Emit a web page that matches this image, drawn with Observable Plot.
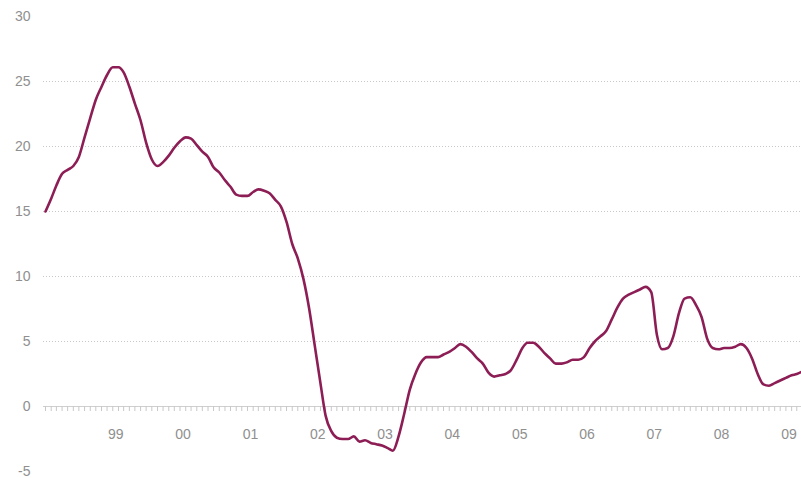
<!DOCTYPE html>
<html>
<head>
<meta charset="utf-8">
<script src="https://cdn.jsdelivr.net/npm/d3@7"></script>
<script src="https://cdn.jsdelivr.net/npm/@observablehq/plot@0.6"></script>
<style>
  html, body { margin: 0; padding: 0; background: #fff; }
  #chart svg { display: block; }
</style>
</head>
<body>
<div id="chart"></div>
<script>
// Monthly values starting January 1998
const startMonth = "1998-01-01";
const endMonth = "2009-04-01";
const values = [
  15.0, 16.0, 17.0, 17.9, 18.2, 18.5, 19.2, 20.7, 22.2, 23.6, 24.6, 25.5,
  26.1, 26.1, 25.7, 24.6, 23.3, 22.0, 20.3, 19.0, 18.5, 18.8, 19.3, 19.9,
  20.4, 20.7, 20.6, 20.1, 19.6, 19.2, 18.4, 18.0, 17.4, 16.9, 16.3, 16.2,
  16.2, 16.5, 16.7, 16.6, 16.4, 15.9, 15.4, 14.2, 12.5, 11.4, 9.8, 7.6,
  4.7, 1.8, -0.7, -1.9, -2.4, -2.5, -2.5, -2.3, -2.7, -2.6, -2.8, -2.9,
  -3.0, -3.2, -3.4, -2.3, -0.6, 1.3, 2.5, 3.4, 3.8, 3.8, 3.8, 4.0,
  4.2, 4.5, 4.8, 4.6, 4.2, 3.7, 3.3, 2.6, 2.3, 2.4, 2.5, 2.8,
  3.6, 4.5, 4.9, 4.9, 4.6, 4.1, 3.7, 3.3, 3.3, 3.4, 3.6, 3.6,
  3.8, 4.5, 5.0, 5.4, 5.8, 6.7, 7.6, 8.3, 8.6, 8.8, 9.0, 9.2,
  8.8, 5.5, 4.4, 4.5, 5.4, 7.2, 8.3, 8.4, 7.8, 6.9, 5.2, 4.5,
  4.4, 4.5, 4.5, 4.6, 4.8, 4.5, 3.7, 2.5, 1.7, 1.6, 1.8, 2.0,
  2.2, 2.4, 2.5, 2.7
];
const yTicks = [-5, 0, 5, 10, 15, 20, 25, 30];
const gridValues = [5, 10, 15, 20, 25];
const yearLabels = ["99", "00", "01", "02", "03", "04", "05", "06", "07", "08", "09"];
const yearStarts = [1999, 2000, 2001, 2002, 2003, 2004, 2005, 2006, 2007, 2008, 2009];

const t0 = new Date(startMonth);
const t1 = new Date(endMonth);
const data = values.map((v, i) => ({date: d3.utcMonth.offset(t0, i), value: v}));
const months = d3.utcMonths(t0, t1);
const years = yearStarts.map((y, i) => ({date: new Date(Date.UTC(y, 0, 1)), label: yearLabels[i]}));

const grey = "#8f8f8f";
const chart = Plot.plot({
  width: 801,
  height: 478,
  marginLeft: 43,
  marginRight: 0,
  marginTop: 16,
  marginBottom: 7,
  style: {fontFamily: "'Liberation Sans', Arial, sans-serif", fontSize: "14px", background: "#fff"},
  x: {type: "utc", domain: [t0, t1], range: [45, 802], axis: null},
  y: {domain: [-5, 30], axis: null},
  marks: [
    Plot.ruleY(gridValues, {stroke: "#c8c8c8", strokeWidth: 1, strokeDasharray: "1,2"}),
    Plot.ruleY([0], {stroke: "#cfcfcf", strokeWidth: 1}),
    Plot.ruleX(months, {x: d => d, y1: 0, y2: 0, insetBottom: -5, stroke: "#c8c8c8", strokeWidth: 1}),
    Plot.axisY({ticks: yTicks, tickSize: 0, tickPadding: 13, tickFormat: d => String(d), fill: grey, anchor: "left", fontSize: 14, label: null}),
    Plot.text(years, {x: "date", y: 0, text: "label", dy: 28, dx: 3, fill: grey, fontSize: 14}),
    Plot.line(data, {x: "date", y: "value", stroke: "#8c1d55", strokeWidth: 2.6, curve: "monotone-x"})
  ]
});
document.getElementById("chart").append(chart);
</script>
</body>
</html>
